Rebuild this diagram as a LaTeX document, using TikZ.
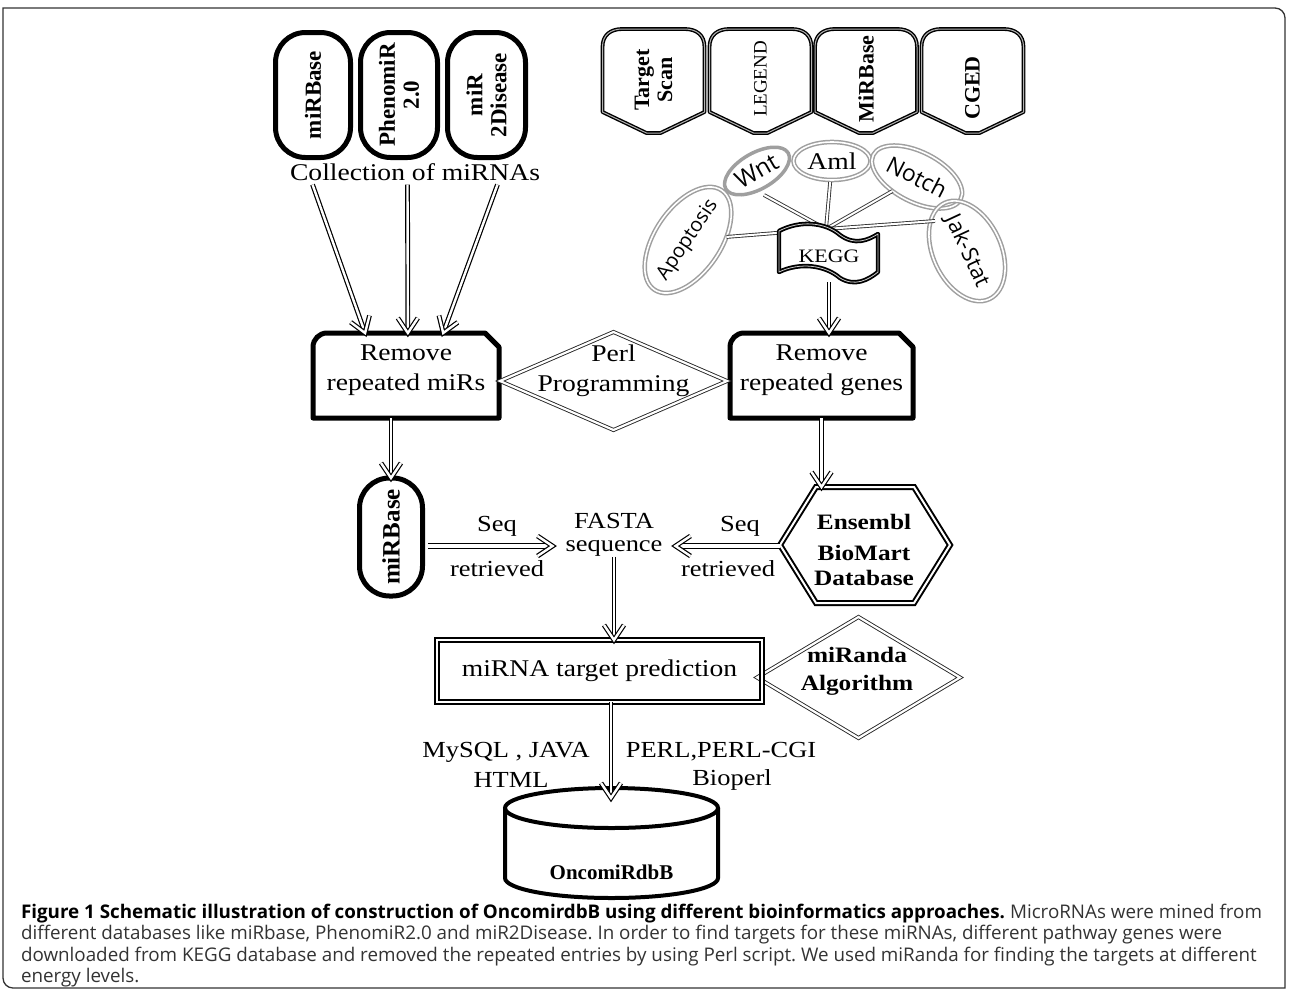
\documentclass[tikz,border=0pt]{standalone}
\usepackage{fontspec}
\setmainfont{Liberation Serif}
\newfontfamily\wserif{Liberation Serif}[FakeStretch=1.15]
\newfontfamily\osans{Open Sans}
\usetikzlibrary{shapes.geometric,decorations.markings,calc}
\frenchspacing
\tikzset{
  dbl/.style={draw=black, double=white, double distance=2.4pt, line width=1.2pt},
  harrow/.style={dbl, postaction={decorate}, decoration={markings, mark=at position 1 with {\draw[dbl, line join=miter] (-15pt,10pt) -- (0pt,0pt) -- (-15pt,-10pt);}}},
  fatarrow/.style={harrow, double distance=4pt},
  thinl/.style={draw=black!80, double=white, double distance=2pt, line width=0.9pt},
  wf/.style={font=\wserif\fontsize{24}{30}\selectfont},
  wfs/.style={font=\wserif\fontsize{23}{23}\selectfont},
  stad/.style={rotate=90, draw, line width=5pt, rounded corners=30pt, align=center, font=\fontsize{23}{24}\selectfont\bfseries},
  bt/.style={rotate=90, align=center, font=\fontsize{22}{23}\selectfont\bfseries},
  pwbase/.style={ellipse, draw=gray!75, inner xsep=-14pt, inner ysep=0pt, font=\osans\fontsize{21}{21}\selectfont},
  pw/.style={pwbase, double=white, double distance=1.6pt, line width=1.5pt},
  rbox/.style={draw, line width=5pt, line join=round},
  dia/.style={diamond, draw=black!85, double=white, double distance=2.2pt, line width=0.9pt, shape aspect=2},
  shl/.style={draw, line width=1.4pt, double=gray!60, double distance=1pt, line join=round},
  shield/.pic={\draw[shl] (-51,112) -- (-51,47) .. controls (-51,35) and (-43,29) .. (-31,29) -- (31,29) .. controls (43,29) and (51,35) .. (51,47) -- (51,112) -- (7,133) -- (-7,133) -- cycle;},
}
\begin{document}
\begin{tikzpicture}[x=1pt,y=-1pt, every node/.style={inner sep=0pt, outer sep=0pt}]
\useasboundingbox (0,0) rectangle (1289,991);
% frame
\draw[line width=1.3pt, black!80] (3,8) -- (1275,8) arc[start angle=270,end angle=360,radius=10] -- (1285,988) -- (13,988) arc[start angle=90,end angle=180,radius=10] -- cycle;

% top-left databases
\node[stad, minimum width=125pt, minimum height=75pt] (mb) at (313,95) {miRBase};
\node[stad, minimum width=125pt, minimum height=77pt] (pm) at (399,95) {PhenomiR\\2.0};
\node[stad, minimum width=125pt, minimum height=78pt] (m2d) at (486.5,95) {miR\\2Disease};
\node[wf] (coll) at (415,172) {Collection of miRNAs};

% top-right databases
\foreach \xc in {653.5,760.5,866,972.5} \pic at (\xc,0) {shield};
\node[bt] (ts) at (653.5,80) {Target\\Scan};
\node[rotate=90, font=\fontsize{19}{19}\selectfont] (lg) at (760.5,79) {LEGEND};
\node[bt] (mrb) at (866,79) {MiRBase};
\node[bt] (cg) at (972.5,88) {CGED};

% pathways
\node[pwbase, line width=3.5pt, rotate=30, minimum width=72pt, minimum height=36pt, font=\osans\fontsize{24}{24}\selectfont] (wnt) at (757,171) {Wnt};
\node[pw, minimum width=77pt, minimum height=38pt, font=\wserif\fontsize{24}{24}\selectfont] (aml) at (832,161) {Aml};
\node[pw, rotate=-27, minimum width=98pt, minimum height=50pt, font=\osans\fontsize{23}{23}\selectfont] (notch) at (917,177) {Notch};
\node[pw, rotate=56, minimum width=120pt, minimum height=66pt, font=\osans\fontsize{20}{20}\selectfont] (apop) at (688,240) {Apoptosis};
\node[pw, rotate=-65, minimum width=106pt, minimum height=68pt, font=\osans\fontsize{22}{22}\selectfont] (jak) at (967,251) {Jak-Stat};

\coordinate (ktop) at (826,229);
\coordinate (wk) at (764,195);
\coordinate (jk) at (935,221);
\draw[thinl] (wk) -- (ktop);
\draw[thinl, shorten <=2pt] (aml) -- (ktop);
\draw[thinl] (notch) -- (ktop);
\draw[thinl] (apop) -- (ktop);
\draw[thinl] (jk) -- (ktop);

% KEGG
\draw[fill=white, line width=1.8pt, double=gray!40, double distance=0.8pt, line join=round] (779,231) .. controls (800,220) and (825,222) .. (840,235) .. controls (855,246) and (868,240) .. (878,234) -- (878,272) .. controls (868,280) and (855,287) .. (840,278) .. controls (825,265) and (800,262) .. (779,272) -- cycle;
\node[font=\wserif\fontsize{19}{19}\selectfont] (kegg) at (829,256) {KEGG};

% remove boxes
\node[minimum width=186pt, minimum height=85pt] (rmir) at (406,375.5) {};
\draw[rbox] (rmir.south west) -- ($(rmir.north west)+(0,14)$) arc[start angle=180,end angle=270,radius=14] -- ($(rmir.north east)+(-14,0)$) -- ($(rmir.north east)+(0,14)$) -- (rmir.south east) -- cycle;
\node[wf, align=center] (rmirt) at (406,370) {Remove\\repeated miRs};

\node[minimum width=183pt, minimum height=85pt] (rgen) at (821.5,375.5) {};
\draw[rbox] (rgen.south west) -- ($(rgen.north west)+(0,14)$) arc[start angle=180,end angle=270,radius=14] -- ($(rgen.north east)+(-14,0)$) -- ($(rgen.north east)+(0,14)$) -- (rgen.south east) -- cycle;
\node[wf, align=center] (rgent) at (821.5,370) {Remove\\repeated genes};

\node[dia, minimum width=227pt, minimum height=98pt] (perl) at (613.5,381) {};
\node[wf, align=center] (perlt) at (613.5,371) {Perl\\Programming};

% arrows into remove boxes
\coordinate (c1) at ($(coll.south west)!0.09!(coll.south east)+(0,4)$);
\coordinate (c2) at ($(coll.south west)!0.47!(coll.south east)+(0,4)$);
\coordinate (c3) at ($(coll.south west)!0.83!(coll.south east)+(0,4)$);
\draw[harrow] (c1) -- ($(rmir.north west)!0.28!(rmir.north east)$);
\draw[harrow] (c2) -- ($(rmir.north west)!0.51!(rmir.north east)$);
\draw[harrow] (c3) -- ($(rmir.north west)!0.70!(rmir.north east)$);
\coordinate (kb) at ($(kegg.south)+(0,20)$);
\draw[harrow] (kb) -- (kb |- rgen.north);

% middle row
\node[stad, minimum width=118pt, minimum height=63pt, font=\fontsize{25}{25}\selectfont\bfseries] (mb2) at (391,537) {miRBase};
\draw[harrow] (rmir.south -| mb2) -- (mb2);

\node[minimum width=170pt, minimum height=116pt] (ens) at (865,545) {};
\draw[line width=2pt, double=white, double distance=2pt, line join=miter] (ens.west) -- ($(ens.north west)+(36,0)$) -- ($(ens.north east)+(-36,0)$) -- (ens.east) -- ($(ens.south east)+(-36,0)$) -- ($(ens.south west)+(36,0)$) -- cycle;
\node[align=center, font=\wserif\bfseries\fontsize{22}{25}\selectfont] (enst) at (864,550) {Ensembl\\[6pt]BioMart\\Database};
\draw[harrow] (rgen.south) -- (rgen.south |- ens.north);

\node[wfs, align=center] (fasta) at (614,535) {FASTA\\sequence};
\draw[fatarrow] ($(mb2)+(37,9)$) -- ($(fasta.west)+(-13,11)$);
\draw[fatarrow] ($(ens.west)+(0,1)$) -- ($(fasta.east)+(13,11)$);
\node[wfs] (sq1) at (497,526) {Seq};
\node[wfs] (rt1) at (497,569) {retrieved};
\node[wfs] (sq2) at (740,526) {Seq};
\node[wfs] (rt2) at (728,569) {retrieved};

% target prediction
\node[dia, minimum width=203pt, minimum height=121pt] (mr) at (858.5,677.5) {};
\node[align=center, font=\wserif\bfseries\fontsize{22}{28}\selectfont] (mrt) at (857,671) {miRanda\\Algorithm};
\node[wf, minimum width=325pt, minimum height=62pt, draw, line width=2.2pt, double=white, double distance=1.8pt] (target) at (599.5,671) {miRNA target prediction};
\draw[harrow] (fasta.south) -- (fasta.south |- target.north);

\node[wfs] (l1) at (506,752) {MySQL , JAVA};
\node[wfs] (l2) at (511,780) {HTML};
\node[wfs] (l3) at (721,752) {PERL,PERL-CGI};
\node[wfs] (l4) at (732,780) {Bioperl};

% database cylinder
\draw[line width=4pt] (505,808) -- (505,878) arc[start angle=180,end angle=0,x radius=106.5,y radius=20] -- (718,808);
\draw[line width=4pt] (611.5,808) ellipse [x radius=106.5, y radius=20];
\node[font=\bfseries\fontsize{21}{21}\selectfont] (db) at (611.5,872) {OncomiRdbB};
\coordinate (dbtop) at (611,798);
\draw[harrow] (target.south -| dbtop) -- (dbtop);

% caption
\node[anchor=north west, align=left, font=\osans\fontsize{18.8}{21.5}\selectfont] (cap) at (21,904) {\textbf{Figure 1 Schematic illustration of construction of OncomirdbB using different bioinformatics approaches.} {\color{black!80}MicroRNAs were mined from}\\{\color{black!80}different databases like miRbase, PhenomiR2.0 and miR2Disease. In order to find targets for these miRNAs, different pathway genes were}\\{\color{black!80}downloaded from KEGG database and removed the repeated entries by using Perl script. We used miRanda for finding the targets at different}\\{\color{black!80}energy levels.}};
\end{tikzpicture}
\end{document}
